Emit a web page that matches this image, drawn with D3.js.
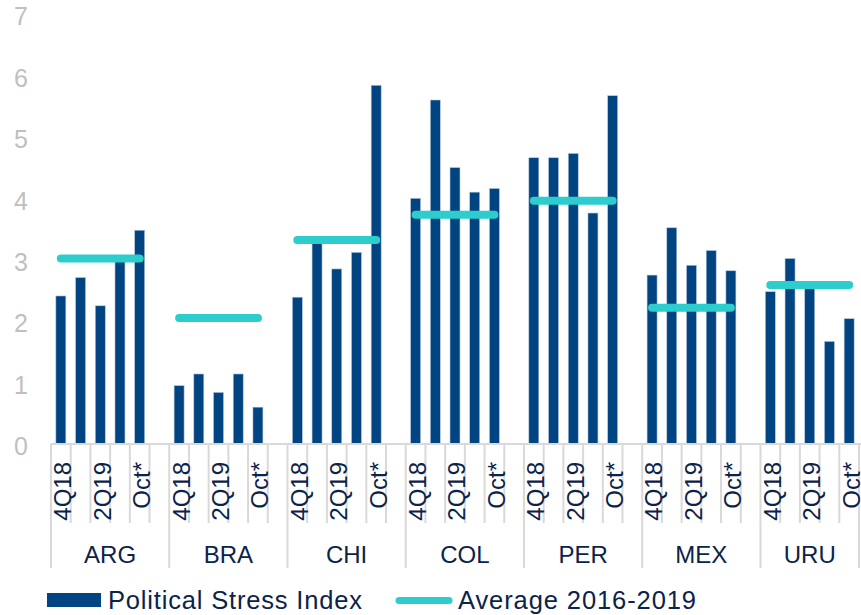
<!DOCTYPE html>
<html>
<head>
<meta charset="utf-8">
<script src="https://cdn.jsdelivr.net/npm/d3@7"></script>
<style>
  body { margin: 0; background: #fff; }
  text { font-family: "Liberation Sans", Arial, sans-serif; }
</style>
</head>
<body>
<svg id="chart" width="861" height="615"></svg>
<script>
// countries and periods (Excel-style two level axis, one empty slot after each country)
var countries = ["ARG", "BRA", "CHI", "COL", "PER", "MEX", "URU"];
var periods = ["4Q18", "1Q19", "2Q19", "3Q19", "Oct*"];

// Political Stress Index, one row per country
var stressIndex = [
    [2.41, 2.71, 2.25, 2.98, 3.48],  // ARG
    [0.95, 1.14, 0.84, 1.14, 0.60],  // BRA
    [2.39, 3.30, 2.85, 3.12, 5.84],  // CHI
    [4.00, 5.60, 4.50, 4.10, 4.16],  // COL
    [4.66, 4.66, 4.73, 3.76, 5.67],  // PER
    [2.75, 3.52, 2.91, 3.15, 2.82],  // MEX
    [2.48, 3.02, 2.55, 1.67, 2.04]   // URU
];

// Average 2016-2019
var average = [3.02, 2.05, 3.32, 3.73, 3.96, 2.22, 2.59];

var yTicks = [0, 1, 2, 3, 4, 5, 6, 7];

var navy = "#004481", aqua = "#2dcccd", textColor = "#0b2349", grid = "#d9d9d9";

var svg = d3.select("#chart");

// build the slots
var slots = [];
countries.forEach(function(c, ci) {
    periods.forEach(function(p, pi) {
        slots.push({key: c + "|" + p, country: c, ci: ci, period: p, pi: pi, value: stressIndex[ci][pi]});
    });
    if (ci < countries.length - 1) slots.push({key: c + "|gap", country: c, ci: ci, period: "", pi: 5, value: null});
});

var x = d3.scaleBand()
    .domain(slots.map(function(d) { return d.key; }))
    .range([51, 859])
    .padding(0);

var y = d3.scaleLinear()
    .domain([0, 7])
    .range([444, 14]);

var bw = x.bandwidth();

// y axis labels (no line)
svg.append("g").selectAll("text")
    .data(yTicks)
    .enter().append("text")
    .attr("x", 28)
    .attr("y", function(d) { return y(d) + 2.5; })
    .attr("dy", "0.35em")
    .attr("text-anchor", "end")
    .attr("font-size", 25)
    .attr("fill", "#bfbfbf")
    .text(function(d) { return d; });

// bars
svg.append("g").selectAll("rect")
    .data(slots.filter(function(d) { return d.value !== null; }))
    .enter().append("rect")
    .attr("x", function(d) { return x(d.key) + bw / 2 - 5; })
    .attr("width", 10)
    .attr("y", function(d) { return y(d.value); })
    .attr("height", function(d) { return y(0) - y(d.value); })
    .attr("fill", navy)
    .attr("stroke", "#b9c8da")
    .attr("stroke-width", 0.6);

// axis line + ticks
var axis = svg.append("g");
axis.append("line")
    .attr("x1", 51).attr("x2", 861)
    .attr("y1", y(0)).attr("y2", y(0))
    .attr("stroke", grid).attr("stroke-width", 2);

var edges = slots.map(function(d) { return x(d.key); }).concat([859]);
axis.selectAll(".tick")
    .data(edges)
    .enter().append("line")
    .attr("class", "tick")
    .attr("x1", function(d) { return d; })
    .attr("x2", function(d) { return d; })
    .attr("y1", y(0))
    .attr("y2", function(d, i) {
        var groupEdge = i === edges.length - 1 || slots[i].pi === 0;
        return groupEdge ? 568 : 523;
    })
    .attr("stroke", grid).attr("stroke-width", 2);

// period labels, every other slot
axis.selectAll(".plab")
    .data(slots.filter(function(d) { return d.pi % 2 === 0 && d.period; }))
    .enter().append("text")
    .attr("class", "plab")
    .attr("transform", function(d) { return "translate(" + (x(d.key) + bw / 2 + 2) + ",462) rotate(-90)"; })
    .attr("dy", "0.35em")
    .attr("text-anchor", "end")
    .attr("font-size", 24)
    .attr("fill", textColor)
    .text(function(d) { return d.period; });

// country labels
axis.selectAll(".clab")
    .data(countries)
    .enter().append("text")
    .attr("class", "clab")
    .attr("x", function(c) {
        var first = x(c + "|4Q18");
        var last = x(c + "|Oct*") + bw;
        return (first + last) / 2 + bw / 2 * (c === countries[countries.length - 1] ? 0 : 1);
    })
    .attr("y", 563)
    .attr("text-anchor", "middle")
    .attr("font-size", 24)
    .attr("fill", textColor)
    .text(function(c) { return c; });

// average lines
svg.append("g").selectAll("line")
    .data(average)
    .enter().append("line")
    .attr("x1", function(d, i) { return x(countries[i] + "|4Q18") + bw / 2; })
    .attr("x2", function(d, i) { return x(countries[i] + "|Oct*") + bw / 2; })
    .attr("y1", function(d) { return y(d); })
    .attr("y2", function(d) { return y(d); })
    .attr("stroke", aqua)
    .attr("stroke-width", 8)
    .attr("stroke-linecap", "round");

// legend
var legend = svg.append("g");
legend.append("rect")
    .attr("x", 47).attr("y", 593)
    .attr("width", 54).attr("height", 14)
    .attr("fill", navy);
legend.append("text")
    .attr("x", 108).attr("y", 609)
    .attr("font-size", 25.5)
    .attr("fill", textColor)
    .attr("textLength", 254)
    .attr("lengthAdjust", "spacing")
    .text("Political Stress Index");
legend.append("line")
    .attr("x1", 399).attr("x2", 449)
    .attr("y1", 600.5).attr("y2", 600.5)
    .attr("stroke", aqua)
    .attr("stroke-width", 7)
    .attr("stroke-linecap", "round");
legend.append("text")
    .attr("x", 458).attr("y", 609)
    .attr("font-size", 25.5)
    .attr("fill", textColor)
    .attr("textLength", 238)
    .attr("lengthAdjust", "spacing")
    .text("Average 2016-2019");
</script>
</body>
</html>
